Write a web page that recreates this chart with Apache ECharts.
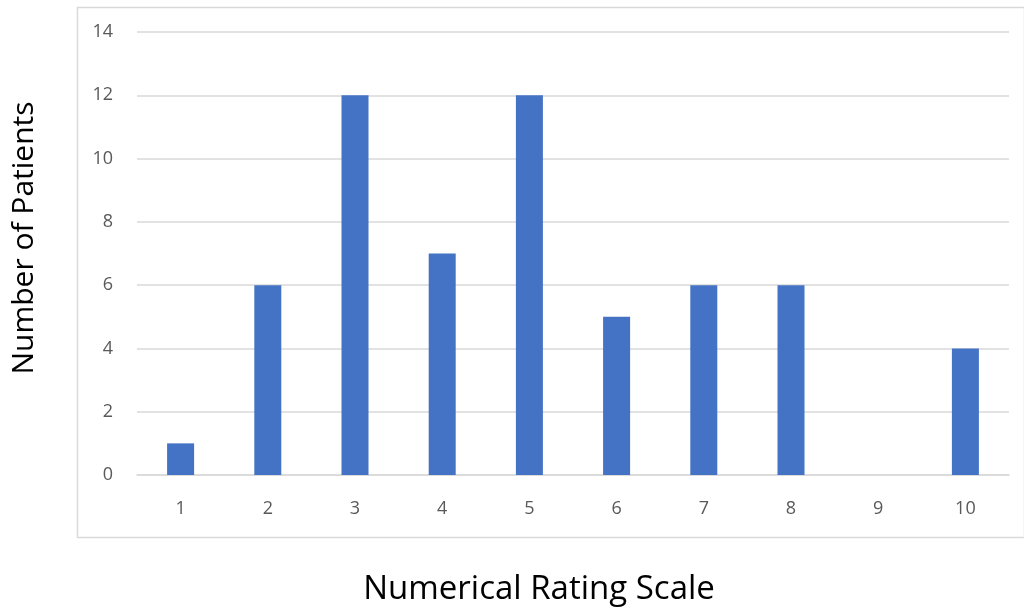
<!DOCTYPE html>
<html><head><meta charset="utf-8">
<script src="https://cdn.jsdelivr.net/npm/echarts@6/dist/echarts.min.js"></script>
<style>html,body{margin:0;padding:0;background:#fff}#c{width:1024px;height:614px}</style>
</head><body><div id="c"></div>
<script>
const categories = ['1','2','3','4','5','6','7','8','9','10'];
const patients = [1, 6, 12, 7, 12, 5, 6, 6, 0, 4];
const yTicks = {min: 0, max: 14, interval: 2};
const xTitle = 'Numerical Rating Scale';
const yTitle = 'Number of Patients';

const chart = echarts.init(document.getElementById('c'));
chart.setOption({
  animation: false,
  backgroundColor: '#fff',
  graphic: [{
    type: 'rect', left: 75, top: 5, z: -1,
    shape: {width: 947, height: 530},
    style: {fill: 'none', stroke: '#d9d9d9', lineWidth: 1.5}
  }, {
    type: 'text', x: 539, y: 590,
    style: {text: xTitle, fontFamily: 'Open Sans', fontSize: 33, fill: '#000',
            align: 'center', verticalAlign: 'middle'}
  }, {
    type: 'text', x: 24, y: 238, rotation: Math.PI / 2,
    style: {text: yTitle, fontFamily: 'Open Sans', fontSize: 30, fill: '#000',
            align: 'center', verticalAlign: 'middle'}
  }],
  grid: {left: 137, right: 15, top: 32, bottom: 139, containLabel: false},
  xAxis: {
    type: 'category', data: categories,
    axisLine: {lineStyle: {color: '#d9d9d9', width: 1.5}},
    axisTick: {show: false},
    axisLabel: {fontFamily: 'Open Sans', fontSize: 18, color: '#595959', margin: 25}
  },
  yAxis: {
    type: 'value', min: yTicks.min, max: yTicks.max, interval: yTicks.interval,
    axisLine: {show: false}, axisTick: {show: false},
    splitLine: {lineStyle: {color: '#d9d9d9', width: 1.5}},
    axisLabel: {fontFamily: 'Open Sans', fontSize: 18, color: '#595959', margin: 24}
  },
  series: [{
    type: 'bar', data: patients, barWidth: 27,
    itemStyle: {color: '#4472C4'}
  }]
});
</script></body></html>
